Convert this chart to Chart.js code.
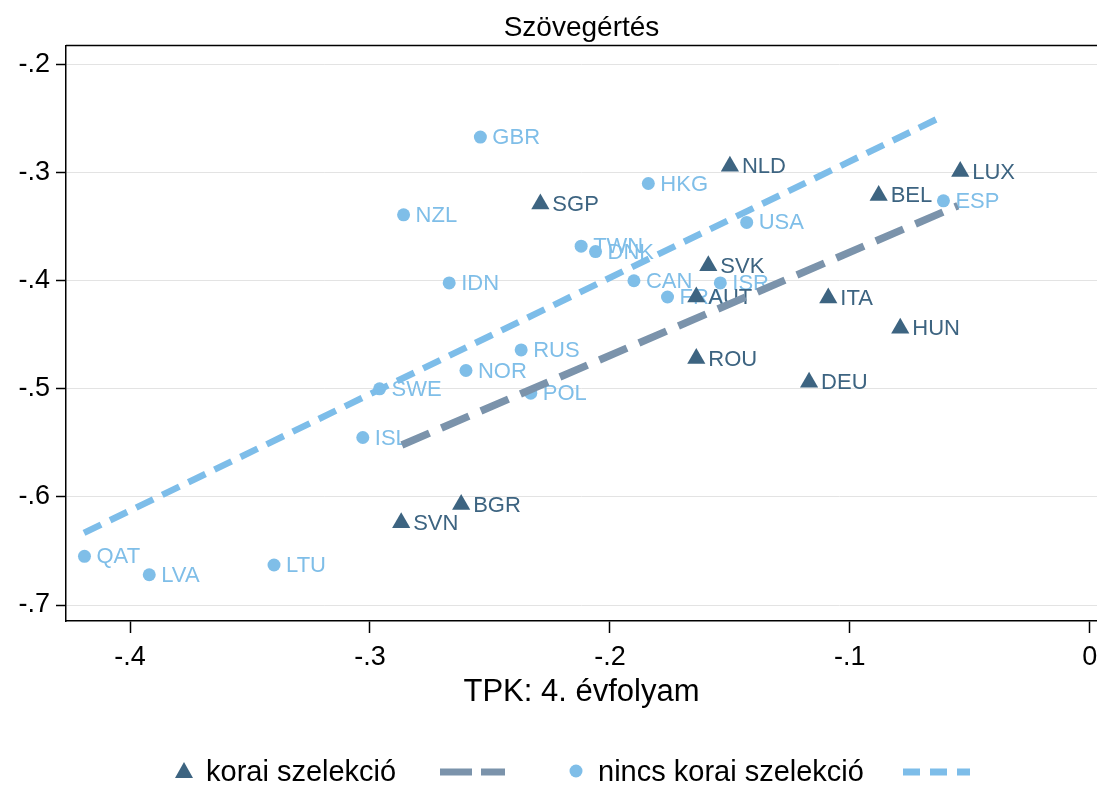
<!DOCTYPE html>
<html>
<head>
    <meta charset="utf-8">
    <script src="https://cdn.jsdelivr.net/npm/chart.js"></script>
    <title>Szövegértés</title>
    <style>
        html, body { margin: 0; padding: 0; background: #fff; }
    </style>
</head>
<body>
    <canvas id="chartScatter" width="1097" height="785"></canvas>

    <script type="text/javascript">
        // korai szelekció (háromszög)
        const koraiCodes = ['NLD', 'LUX', 'SGP', 'BEL', 'SVK', 'AUT', 'ITA', 'HUN', 'ROU', 'DEU', 'BGR', 'SVN'];
        const koraiX = [-0.150, -0.054, -0.229, -0.088, -0.159, -0.164, -0.109, -0.079, -0.164, -0.117, -0.262, -0.287];
        const koraiY = [-0.294, -0.299, -0.329, -0.321, -0.386, -0.415, -0.416, -0.444, -0.472, -0.494, -0.607, -0.624];

        // nincs korai szelekció (kör)
        const nincsCodes = ['GBR', 'HKG', 'ESP', 'NZL', 'USA', 'TWN', 'DNK', 'CAN', 'ISR', 'FRA', 'IDN', 'RUS', 'NOR', 'SWE', 'POL', 'ISL', 'QAT', 'LVA', 'LTU'];
        const nincsX = [-0.254, -0.184, -0.061, -0.286, -0.143, -0.212, -0.206, -0.190, -0.154, -0.176, -0.267, -0.237, -0.260, -0.296, -0.233, -0.303, -0.419, -0.392, -0.340];
        const nincsY = [-0.267, -0.310, -0.326, -0.339, -0.346, -0.368, -0.373, -0.400, -0.402, -0.415, -0.402, -0.464, -0.483, -0.500, -0.504, -0.545, -0.655, -0.672, -0.663];

        // illesztett egyenesek végpontjai
        const koraiFitX = [-0.2867, -0.0550];
        const koraiFitY = [-0.5519, -0.3306];
        const nincsFitX = [-0.4192, -0.0625];
        const nincsFitY = [-0.6333, -0.2491];

        const xTicks = [-0.4, -0.3, -0.2, -0.1, 0];
        const xTickLabels = ['-.4', '-.3', '-.2', '-.1', '0'];
        const yTicks = [-0.2, -0.3, -0.4, -0.5, -0.6, -0.7];
        const yTickLabels = ['-.2', '-.3', '-.4', '-.5', '-.6', '-.7'];

        const legendLabels = ['korai szelekció', 'nincs korai szelekció'];

        const DARK = '#3d6481';
        const LIGHT = '#7fbee8';
        const DARK_LINE = '#7b93ab';
        const LIGHT_LINE = '#7dbde9';
        const FONT = "'Liberation Sans', Arial, Helvetica, sans-serif";

        const toPoints = (xs, ys) => xs.map((x, i) => ({ x: x, y: ys[i] }));

        // országkódok a pontok mellé
        const pointLabels = {
            id: 'pointLabels',
            afterDatasetDraw(chart, args) {
                const ds = chart.data.datasets[args.index];
                if (!ds.codes) return;
                const ctx = chart.ctx;
                ctx.save();
                ctx.font = '22px ' + FONT;
                ctx.fillStyle = ds.backgroundColor;
                ctx.textBaseline = 'middle';
                ctx.textAlign = 'left';
                args.meta.data.forEach((el, i) => {
                    ctx.fillText(ds.codes[i], el.x + 12, el.y + 1);
                });
                ctx.restore();
            }
        };

        // felső keretvonal + jelmagyarázat
        const frameAndLegend = {
            id: 'frameAndLegend',
            afterDraw(chart) {
                const ctx = chart.ctx;
                const area = chart.chartArea;
                ctx.save();
                ctx.strokeStyle = '#000';
                ctx.lineWidth = 1.5;
                ctx.beginPath();
                ctx.moveTo(area.left, area.top);
                ctx.lineTo(chart.width, area.top);
                ctx.stroke();

                const y = 772;
                ctx.font = '29px ' + FONT;
                ctx.textBaseline = 'middle';

                // korai szelekció
                ctx.fillStyle = DARK;
                ctx.beginPath();
                ctx.moveTo(184, y - 10);
                ctx.lineTo(193, y + 6);
                ctx.lineTo(175, y + 6);
                ctx.closePath();
                ctx.fill();
                ctx.fillStyle = '#000';
                ctx.fillText(legendLabels[0], 206, y + 1);

                ctx.strokeStyle = DARK_LINE;
                ctx.lineWidth = 7;
                ctx.setLineDash([32, 9]);
                ctx.beginPath();
                ctx.moveTo(440, y);
                ctx.lineTo(505, y);
                ctx.stroke();

                // nincs korai szelekció
                ctx.setLineDash([]);
                ctx.fillStyle = LIGHT;
                ctx.beginPath();
                ctx.arc(576, y - 1, 6.5, 0, Math.PI * 2);
                ctx.fill();
                ctx.fillStyle = '#000';
                ctx.fillText(legendLabels[1], 598, y + 1);

                ctx.strokeStyle = LIGHT_LINE;
                ctx.lineWidth = 7;
                ctx.setLineDash([17, 10]);
                ctx.beginPath();
                ctx.moveTo(903, y);
                ctx.lineTo(970, y);
                ctx.stroke();
                ctx.restore();
            }
        };

        const ctx = document.getElementById('chartScatter').getContext('2d');

        new Chart(ctx, {
            type: 'scatter',
            data: {
                datasets: [
                    {
                        label: legendLabels[1],
                        data: toPoints(nincsX, nincsY),
                        codes: nincsCodes,
                        pointStyle: 'circle',
                        pointRadius: 6.5,
                        backgroundColor: LIGHT,
                        borderColor: LIGHT,
                        borderWidth: 0,
                        order: 4
                    },
                    {
                        label: legendLabels[0],
                        data: toPoints(koraiX, koraiY),
                        codes: koraiCodes,
                        pointStyle: 'triangle',
                        pointRadius: 10.5,
                        backgroundColor: DARK,
                        borderColor: DARK,
                        borderWidth: 0,
                        order: 3
                    },
                    {
                        type: 'line',
                        data: toPoints(koraiFitX, koraiFitY),
                        borderColor: DARK_LINE,
                        borderWidth: 7.5,
                        borderDash: [30, 13],
                        pointRadius: 0,
                        fill: false,
                        order: 2
                    },
                    {
                        type: 'line',
                        data: toPoints(nincsFitX, nincsFitY),
                        borderColor: LIGHT_LINE,
                        borderWidth: 6.5,
                        borderDash: [19, 10],
                        pointRadius: 0,
                        fill: false,
                        order: 1
                    }
                ]
            },
            options: {
                responsive: false,
                animation: false,
                layout: {
                    autoPadding: false,
                    padding: { left: 0, right: 0, top: 0, bottom: 70 }
                },
                plugins: {
                    legend: { display: false },
                    tooltip: { enabled: false },
                    title: {
                        display: true,
                        fullSize: false,
                        text: 'Szövegértés',
                        color: '#000',
                        font: { family: FONT, size: 28, weight: 'normal', lineHeight: 1.2 },
                        padding: { top: 11, bottom: 1 }
                    }
                },
                scales: {
                    x: {
                        type: 'linear',
                        min: -0.4267,
                        max: 0.003,
                        afterFit: scale => {
                            scale.height = 94;
                            scale.paddingLeft = 0;
                            scale.paddingRight = 0;
                        },
                        afterBuildTicks: scale => { scale.ticks = xTicks.map(v => ({ value: v })); },
                        ticks: {
                            color: '#000',
                            font: { family: FONT, size: 27 },
                            padding: 8,
                            maxRotation: 0,
                            callback: v => xTickLabels[xTicks.indexOf(v)]
                        },
                        grid: {
                            drawOnChartArea: false,
                            drawTicks: true,
                            tickLength: 12,
                            tickColor: '#000',
                            tickWidth: 1.5
                        },
                        border: { color: '#000', width: 1.5 },
                        title: {
                            display: true,
                            text: 'TPK: 4. évfolyam',
                            color: '#000',
                            font: { family: FONT, size: 31 },
                            padding: { top: 0, bottom: 4 }
                        }
                    },
                    y: {
                        type: 'linear',
                        min: -0.7148,
                        max: -0.1824,
                        afterFit: scale => {
                            scale.width = 66;
                            scale.paddingTop = 0;
                            scale.paddingBottom = 0;
                        },
                        afterBuildTicks: scale => { scale.ticks = yTicks.map(v => ({ value: v })); },
                        ticks: {
                            color: '#000',
                            font: { family: FONT, size: 27 },
                            padding: 6,
                            callback: v => yTickLabels[yTicks.indexOf(v)]
                        },
                        grid: {
                            color: '#e3e3e3',
                            lineWidth: 1,
                            drawTicks: true,
                            tickLength: 10,
                            tickColor: '#000',
                            tickWidth: 1.5
                        },
                        border: { color: '#000', width: 1.5 }
                    }
                }
            },
            plugins: [pointLabels, frameAndLegend]
        });
    </script>
</body>
</html>
